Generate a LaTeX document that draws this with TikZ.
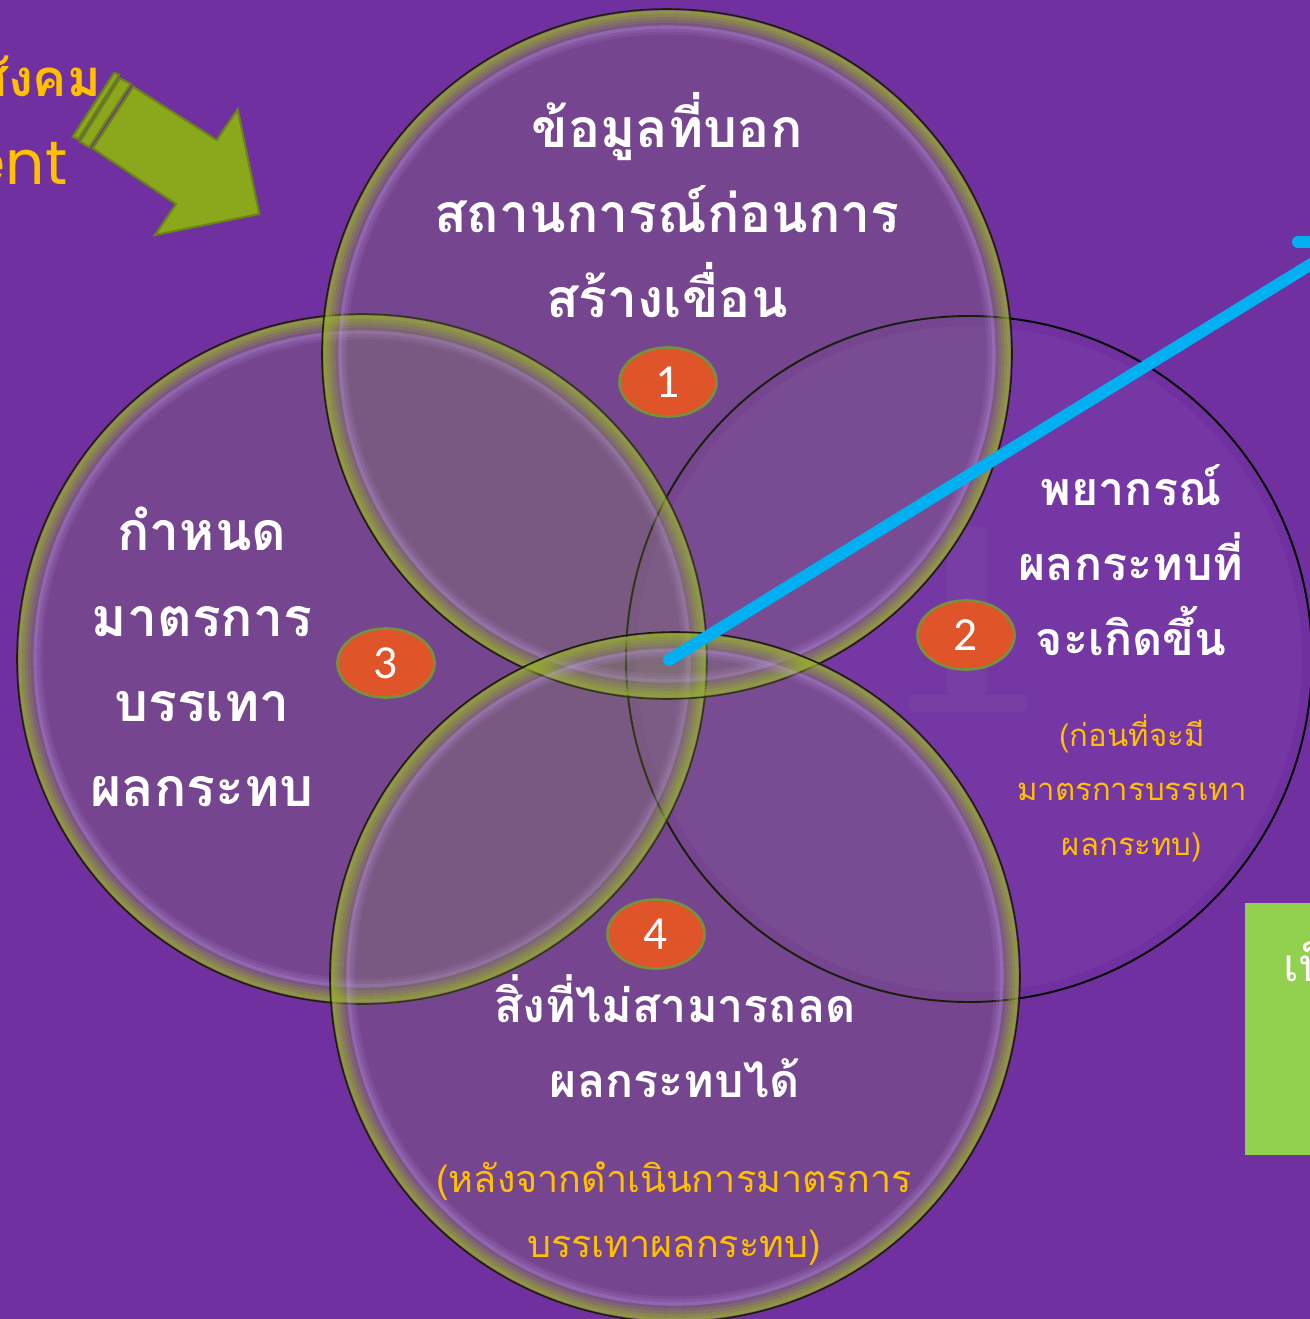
\documentclass[tikz,border=0pt]{standalone}
\usepackage{fontspec}
\setmainfont{Carlito}
\newfontfamily\thaifont[Script=Thai]{Loma}
\newfontfamily\geofont{Poppins}
\usetikzlibrary{shapes.geometric}

\definecolor{bgpurple}{HTML}{7030A0}
\definecolor{glassfill}{RGB}{140,170,70}
\definecolor{glassrim}{HTML}{98AE2C}
\definecolor{glasshigh}{HTML}{C8A0F0}
\definecolor{rimdark}{HTML}{1E1E08}
\definecolor{badgeorange}{HTML}{E0542A}
\definecolor{badgerim}{HTML}{76923C}
\definecolor{notegold}{HTML}{FFC000}
\definecolor{leaderblue}{HTML}{00B0F0}
\definecolor{boxgreen}{HTML}{92D050}
\definecolor{arrowgreen}{HTML}{8BA81C}
\definecolor{arrowrim}{HTML}{6A8416}

% glass-like ring round a named coordinate
\newcommand{\bubble}[1]{%
  \fill [glassfill, opacity=0.18] (#1) circle (345);
  \foreach \r/\o in {342/0.75, 339/0.6, 336/0.45, 333/0.3, 330/0.15}
    \draw [glassrim, line width=1.8pt, opacity=\o] (#1) circle (\r);
  \foreach \r/\o in {327/0.35, 324/0.2, 321/0.1}
    \draw [glasshigh, line width=1.8pt, opacity=\o] (#1) circle (\r);
  \draw [rimdark, line width=0.9pt] (#1) circle (345);
}

\begin{document}
\begin{tikzpicture}[x=0.02cm, y=0.02cm,
    bigtext/.style={text=white, align=center, inner sep=0pt,
      font=\thaifont\bfseries\fontsize{30.5}{48.5}\selectfont},
    midtext/.style={text=white, align=center, inner sep=0pt,
      font=\thaifont\bfseries\fontsize{26.5}{42.5}\selectfont},
    notetext/.style={text=notegold, align=center, inner sep=0pt,
      font=\thaifont\fontsize{17.7}{31}\selectfont},
    lownote/.style={text=notegold, align=center, inner sep=0pt,
      font=\thaifont\fontsize{21.5}{37}\selectfont},
    badge/.style={ellipse, fill=badgeorange, draw=badgerim, line width=1.5pt,
      minimum width=1.94cm, minimum height=1.38cm, inner sep=0pt,
      text=white, font=\fontsize{27}{30}\selectfont},
    leader/.style={leaderblue, line width=6.8pt, line cap=round, line join=round},
    arrowpart/.style={fill=arrowgreen, draw=arrowrim, line width=1.2pt, line join=miter}
  ]
    \useasboundingbox (0,0) rectangle (1310,-1319);
    \clip (0,0) rectangle (1310,-1319);
    \fill [bgpurple] (0,0) rectangle (1310,-1319);

    % circle centres
    \coordinate (c1) at (667,-354);
    \coordinate (c2) at (969,-659);
    \coordinate (c3) at (362,-659);
    \coordinate (c4) at (675,-977);

    % right circle, plain
    \fill [white, opacity=0.035] (c2) circle (333);
    \fill [white, opacity=0.035, rounded corners=4] (947,-527) rectangle (987,-695);
    \fill [white, opacity=0.035, rounded corners=4] (908,-695) rectangle (1028,-712);
    \draw [black, line width=1.1pt] (c2) circle (343);

    \bubble{c3}
    \bubble{c1}
    \bubble{c4}

    % top left arrow
    \filldraw [arrowpart] (133.3,-86.7) -- (216.7,-140) -- (237.7,-109.3) -- (259.3,-214)
      -- (155,-235) -- (176,-204) -- (92.7,-148.3) -- cycle;
    \filldraw [arrowpart] (120,-78.3) -- (130.7,-84) -- (89.3,-147.3) -- (80,-141.7) -- cycle;
    \filldraw [arrowpart] (114.3,-72.7) -- (119,-75) -- (78.3,-139.3) -- (72.7,-136.7) -- cycle;

    \node [anchor=east, text=notegold, inner sep=0pt,
      font=\thaifont\bfseries\fontsize{29}{30}\selectfont] (social) at (101,-76) {สังคม};
    \node [anchor=east, text=notegold, inner sep=0pt,
      font=\geofont\fontsize{35}{36}\selectfont] (ent) at (68,-164) {ent};

    % circle texts
    \node [bigtext] (toptext) at (667,-205)
      {ข้อมูลที่บอก\\สถานการณ์ก่อนการ\\สร้างเขื่อน};
    \node [bigtext] (lefttext) at (202,-657)
      {กำหนด\\มาตรการ\\บรรเทา\\ผลกระทบ};
    \node [midtext] (righttext) at (1131,-560)
      {พยากรณ์\\ผลกระทบที่\\จะเกิดขึ้น};
    \node [notetext] (rightnote) at (1132,-788)
      {(ก่อนที่จะมี\\มาตรการบรรเทา\\ผลกระทบ)};
    \node [midtext] (lowtext) at (675,-1036)
      {สิ่งที่ไม่สามารถลด\\ผลกระทบได้};
    \node [lownote] (lownote) at (674,-1214)
      {(หลังจากดำเนินการมาตรการ\\บรรเทาผลกระทบ)};

    % numbered badges
    \node [badge] (b1) at (668,-382) {1};
    \node [badge] (b2) at (966,-635) {2};
    \node [badge] (b3) at (386,-663) {3};
    \node [badge] (b4) at (656,-934) {4};

    % green box at the right edge
    \fill [boxgreen] (1245,-903) rectangle (1330,-1155);
    \node [anchor=west, text=white, inner sep=0pt,
      font=\thaifont\fontsize{26}{30}\selectfont] (boxtext) at (1283,-960) {เป็น};

    % blue leader
    \coordinate (hub) at (669,-660);
    \coordinate (bend) at (1347,-242);
    \coordinate (stub) at (1298,-242);
    \draw [leader] (hub) -- (bend) -- (stub);
\end{tikzpicture}
\end{document}
